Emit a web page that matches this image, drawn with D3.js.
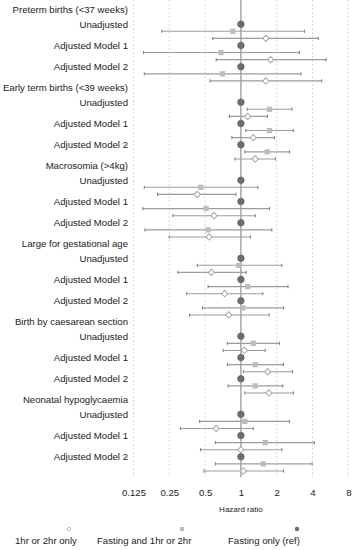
<!DOCTYPE html>
<html>
<head>
<meta charset="utf-8">
<script src="https://cdn.jsdelivr.net/npm/d3@7"></script>
<style>
  body { margin: 0; background: #fff; }
  text { font-family: "Liberation Sans", Arial, sans-serif; fill: #222; }
</style>
</head>
<body>
<div class="chart"></div>
<script>
// outcomes and models
const groups = [
  'Preterm births (<37 weeks)',
  'Early term births (<39 weeks)',
  'Macrosomia (>4kg)',
  'Large for gestational age',
  'Birth by caesarean section',
  'Neonatal hypoglycaemia'
];
const models = ['Unadjusted', 'Adjusted Model 1', 'Adjusted Model 2'];

// fasting and 1hr or 2hr (square), 3 models per outcome
const sqHR = [0.855, 0.68, 0.70,  1.74, 1.74, 1.66,  0.46, 0.51, 0.53,  0.96, 1.14, 1.04,  1.27, 1.32, 1.32,  1.08, 1.60, 1.54];
const sqLo = [0.216, 0.152, 0.154, 1.13, 1.10, 1.08,  0.154, 0.15, 0.156, 0.43, 0.53, 0.475, 0.77, 0.77, 0.78, 0.45, 0.61, 0.61];
const sqHi = [3.42, 3.10, 3.20,   2.69, 2.76, 2.56,  1.39, 1.74, 1.82,  2.21, 2.49, 2.29,  2.11, 2.28, 2.25,  2.56, 4.15, 3.97];

// 1hr or 2hr only (diamond)
const dmHR = [1.62, 1.78, 1.62,  1.14, 1.27, 1.32,  0.43, 0.595, 0.54,  0.565, 0.73, 0.79,  1.07, 1.68, 1.72,  0.62, 1.00, 1.05];
const dmLo = [0.58, 0.62, 0.55,  0.80, 0.84, 0.89,  0.199, 0.268, 0.25, 0.295, 0.35, 0.37,  0.71, 1.05, 1.08,  0.31, 0.457, 0.49];
const dmHi = [4.48, 5.20, 4.79,  1.67, 1.91, 1.95,  0.91, 1.32, 1.20,  1.105, 1.53, 1.73,  1.60, 2.71, 2.76,  1.27, 2.21, 2.28];

// fasting only is the reference
const refHR = 1;

const ticks = [0.125, 0.25, 0.5, 1, 2, 4, 8];
const tickLabels = ['0.125', '0.25', '0.5', '1', '2', '4', '8'];
const legendLabels = ['1hr or 2hr only', 'Fasting and 1hr or 2hr', 'Fasting only (ref)'];

const width = 356, height = 550;
const svg = d3.select('.chart').append('svg')
  .attr('width', width)
  .attr('height', height);

const x = d3.scaleLog().base(2).domain([0.125, 8]).range([133.5, 348.3]);
// 11 slots per outcome: header, then circle/square/diamond for each model
const y = d3.scaleLinear().domain([0, 65]).range([10, 471]);

// grid
svg.selectAll('line.grid')
  .data(ticks.filter(t => t !== 1))
  .enter().append('line')
  .attr('x1', d => x(d)).attr('x2', d => x(d))
  .attr('y1', 0).attr('y2', 477)
  .attr('stroke', '#d8d8d8')
  .attr('stroke-dasharray', '2,2');

svg.append('line')
  .attr('x1', x(1)).attr('x2', x(1))
  .attr('y1', 0).attr('y2', 477)
  .attr('stroke', '#b5b5b5')
  .attr('stroke-width', 1.8);

// build rows
const rows = [];
groups.forEach((g, gi) => {
  rows.push({type: 'header', label: g, slot: gi * 11});
  models.forEach((m, mi) => {
    const i = gi * 3 + mi;
    const s = gi * 11 + 2 + mi * 3;
    rows.push({type: 'ref', label: m, slot: s, hr: refHR});
    rows.push({type: 'sq', slot: s + 1, hr: sqHR[i], lo: sqLo[i], hi: sqHi[i]});
    rows.push({type: 'dm', slot: s + 2, hr: dmHR[i], lo: dmLo[i], hi: dmHi[i]});
  });
});

// labels
svg.selectAll('text.row')
  .data(rows.filter(d => d.label))
  .enter().append('text')
  .attr('x', 128)
  .attr('y', d => y(d.slot))
  .attr('dy', '0.35em')
  .attr('text-anchor', 'end')
  .style('font-size', '9.6px')
  .text(d => d.label);

const ci = rows.filter(d => d.lo !== undefined);

// confidence intervals
svg.selectAll('line.ci')
  .data(ci)
  .enter().append('line')
  .attr('x1', d => x(d.lo)).attr('x2', d => x(d.hi))
  .attr('y1', d => y(d.slot)).attr('y2', d => y(d.slot))
  .attr('stroke', '#9c9c9c')
  .attr('stroke-width', 1.1);

// whisker caps
const caps = [];
ci.forEach(d => { caps.push({v: d.lo, slot: d.slot}); caps.push({v: d.hi, slot: d.slot}); });
svg.selectAll('line.cap')
  .data(caps)
  .enter().append('line')
  .attr('x1', d => x(d.v)).attr('x2', d => x(d.v))
  .attr('y1', d => y(d.slot) - 1.6).attr('y2', d => y(d.slot) + 1.6)
  .attr('stroke', '#7a7a7a')
  .attr('stroke-width', 1);

const circleSym = d3.symbol(d3.symbolCircle, 34);
const squareSym = d3.symbol(d3.symbolSquare, 28);
const diamondSym = d3.symbol(d3.symbolSquare, 20);

function drawMarker(sel, type) {
  if (type === 'ref') {
    sel.attr('d', circleSym).attr('fill', '#6e6e6e').attr('stroke', '#555').attr('stroke-width', 0.6);
  } else if (type === 'sq') {
    sel.attr('d', squareSym).attr('fill', '#bdbdbd');
  } else {
    sel.attr('d', diamondSym).attr('fill', '#fff').attr('stroke', '#a5a5a5').attr('stroke-width', 1);
  }
}

svg.selectAll('path.mark')
  .data(rows.filter(d => d.hr !== undefined))
  .enter().append('path')
  .attr('transform', d => `translate(${x(d.hr)},${y(d.slot)})` + (d.type === 'dm' ? ' rotate(45)' : ''))
  .each(function(d) { drawMarker(d3.select(this), d.type); });

// x axis
const axis = svg.append('g')
  .attr('transform', 'translate(0,486)')
  .call(d3.axisBottom(x).tickValues(ticks).tickFormat((d, i) => tickLabels[i]).tickSize(0));
axis.select('.domain').remove();
axis.selectAll('text')
  .style('font-family', '"Liberation Sans", Arial, sans-serif')
  .style('font-size', '9.6px')
  .attr('fill', '#222');

svg.append('text')
  .attr('x', x(1))
  .attr('y', 509)
  .attr('dy', '0.35em')
  .attr('text-anchor', 'middle')
  .style('font-size', '8px')
  .text('Hazard ratio');

// legend
const legend = [
  {type: 'dm', label: legendLabels[0], tx: 15, mx: 69},
  {type: 'sq', label: legendLabels[1], tx: 97, mx: 182},
  {type: 'ref', label: legendLabels[2], tx: 228, mx: 297}
];
const lg = svg.append('g');
lg.selectAll('path')
  .data(legend)
  .enter().append('path')
  .attr('transform', d => `translate(${d.mx},529)` + (d.type === 'dm' ? ' rotate(45)' : ''))
  .each(function(d) {
    const s = d3.select(this);
    if (d.type === 'ref') s.attr('d', d3.symbol(d3.symbolCircle, 16)).attr('fill', '#6e6e6e');
    else if (d.type === 'sq') s.attr('d', d3.symbol(d3.symbolSquare, 16)).attr('fill', '#bdbdbd');
    else s.attr('d', d3.symbol(d3.symbolSquare, 9)).attr('fill', '#fff').attr('stroke', '#aaa').attr('stroke-width', 0.8);
  });
lg.selectAll('text')
  .data(legend)
  .enter().append('text')
  .attr('x', d => d.tx)
  .attr('y', 541)
  .attr('dy', '0.35em')
  .style('font-size', '9.6px')
  .text(d => d.label);
</script>
</body>
</html>
